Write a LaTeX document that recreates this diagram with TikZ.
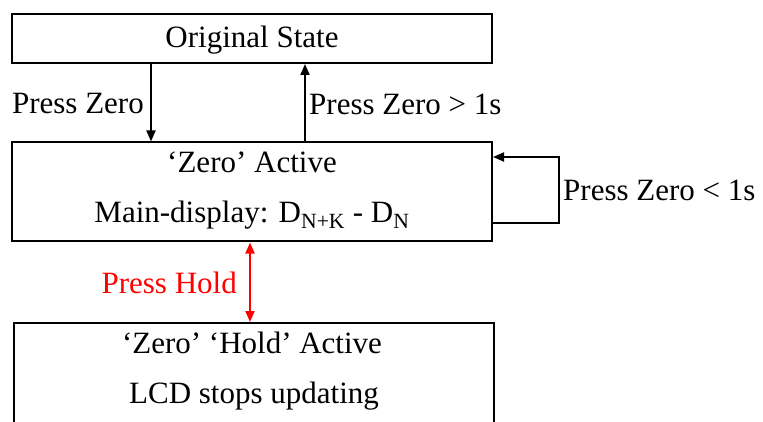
\documentclass[tikz,border=0pt]{standalone}
\usepackage{fontspec}
\setmainfont{Liberation Serif}
\usetikzlibrary{arrows.meta,calc}
\begin{document}
\begin{tikzpicture}[x=1pt,y=-1pt,
  box/.style={draw,line width=2pt,minimum width=480pt,inner sep=0pt,align=center},
  lbl/.style={inner sep=0pt,font=\fontsize{31}{37}\selectfont},
  arr/.style={line width=2pt,-{Triangle[length=11pt,width=9pt]}},
  redarr/.style={line width=2pt,red,{Triangle[length=11pt,width=9pt]}-{Triangle[length=11pt,width=9pt]}}]
\useasboundingbox (0,0) rectangle (763,422);
\clip (0,0) rectangle (763,422);
\node[box,minimum height=49pt] (b1) at (252,38.5) {};
\node[box,minimum height=99pt] (b2) at (252,192) {};
\node[box,minimum height=130pt] (b3) at (254,388) {};
\node[lbl] (t1) at (252,40) {Original State};
\node[lbl] (t2a) at (252,162) {`Zero' Active};
\node[lbl] (t2b) at (252,215) {Main-display: D\textsubscript{N+K} - D\textsubscript{N}};
\node[lbl] (t3a) at (252,343) {`Zero' `Hold' Active};
\node[lbl] (t3b) at (254,396) {LCD stops updating};
\coordinate (xd) at (151,0);
\coordinate (xu) at (305,0);
\coordinate (xh) at (250,0);
\coordinate (yl1) at (0,157);
\coordinate (yl2) at (0,223);
\coordinate (lr) at (559,0);
\draw[arr] (xd |- b1.south) -- (xd |- b2.north);
\draw[arr] (xu |- b2.north) -- (xu |- b1.south);
\draw[arr] (b2.east |- yl2) -- (lr |- yl2) -- (lr |- yl1) -- (b2.east |- yl1);
\draw[redarr] (xh |- b2.south) -- (xh |- b3.north);
\node[lbl,anchor=east] (l1) at (144,104) {Press Zero};
\node[lbl,anchor=west] (l2) at (309,104) {Press Zero > 1s};
\node[lbl,anchor=west] (l3) at (563,190) {Press Zero < 1s};
\node[lbl,anchor=east,text=red] (l4) at (237,283) {Press Hold};
\end{tikzpicture}
\end{document}
